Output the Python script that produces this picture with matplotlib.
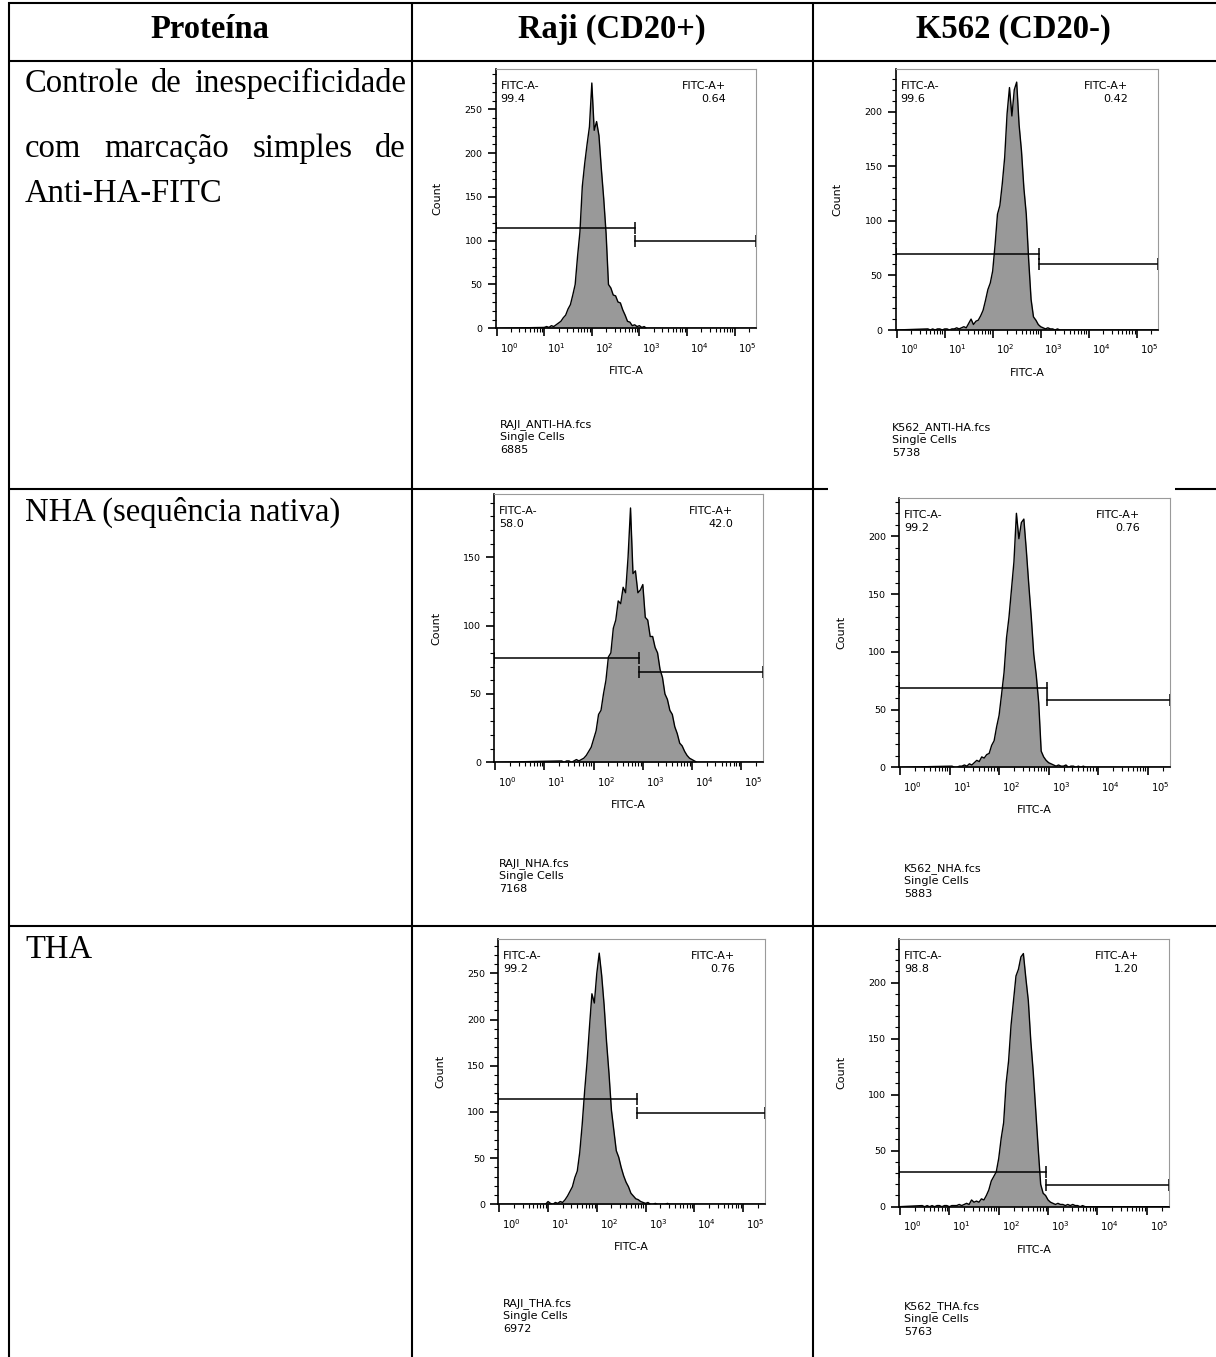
import numpy as np
import matplotlib.pyplot as plt
from matplotlib.transforms import ScaledTranslation
from matplotlib.ticker import MultipleLocator, LogLocator, NullFormatter

W, H = 1216, 1357
BIN = 0.05  # histogram bin width, decades of FITC-A

# table text
headers = ['Proteína', 'Raji (CD20+)', 'K562 (CD20-)']
row1_lines = ['Controle de inespecificidade', 'com marcação simples de', 'Anti-HA-FITC']
row2_label = 'NHA (sequência nativa)'
row3_label = 'THA'

# one entry per histogram: Raji/K562 x anti-HA, NHA, THA
files = ['RAJI_ANTI-HA.fcs', 'K562_ANTI-HA.fcs', 'RAJI_NHA.fcs',
         'K562_NHA.fcs', 'RAJI_THA.fcs', 'K562_THA.fcs']
events = [6885, 5738, 7168, 5883, 6972, 5763]
neg_pct = ['99.4', '99.6', '58.0', '99.2', '99.2', '98.8']
pos_pct = ['0.64', '0.42', '42.0', '0.76', '0.76', '1.20']
gate_split = [794, 933, 851, 933, 676, 912]
gate_neg_y = [115, 70, 76, 69, 114, 31]
gate_pos_y = [100, 60, 66, 58, 99, 19]
y_top = [296, 239, 196, 233, 287, 239]
y_last_tick = [250, 200, 150, 200, 250, 200]

# first bin (log10 FITC-A) and counts per bin
hist_start = [1.00, 0.65, 1.35, 1.05, 0.95, 0.45]
raji_antiha = [1, 2, 1, 3, 2, 4, 6, 8, 12, 15,
               22, 27, 38, 50, 82, 110, 162, 188, 210, 230,
               280, 226, 236, 220, 182, 148, 108, 50, 46, 38,
               37, 30, 29, 21, 15, 8, 7, 3, 4, 2,
               3, 1, 2, 0]
k562_antiha = [1, 0, 1, 0, 1, 1, 0, 1, 1, 0,
               1, 1, 2, 1, 2, 3, 2, 6, 10, 5,
               8, 9, 13, 18, 27, 37, 43, 54, 78, 106,
               114, 134, 158, 198, 222, 196, 220, 227, 188, 164,
               130, 106, 64, 28, 12, 9, 5, 3, 2, 1,
               2, 1, 1, 0, 1, 0]
raji_nha = [1, 0, 1, 1, 0, 1, 2, 1, 2, 3,
            5, 8, 11, 17, 23, 35, 38, 50, 60, 77,
            80, 98, 104, 118, 116, 128, 124, 150, 186, 138,
            140, 124, 126, 130, 106, 104, 92, 92, 84, 80,
            68, 62, 50, 46, 38, 35, 26, 21, 14, 12,
            8, 5, 3, 2, 1, 0]
k562_nha = [1, 0, 0, 1, 1, 2, 1, 3, 2, 4,
            6, 5, 9, 8, 11, 12, 19, 23, 35, 45,
            63, 82, 112, 130, 154, 178, 220, 198, 212, 215,
            188, 158, 130, 98, 80, 56, 14, 9, 6, 4,
            3, 2, 1, 2, 1, 1, 2, 0, 1, 1,
            0, 1, 0, 1, 0]
raji_tha = [0, 3, 1, 0, 2, 1, 3, 2, 5, 9,
            14, 19, 29, 36, 56, 86, 122, 154, 192, 228,
            218, 250, 272, 248, 216, 176, 142, 102, 80, 58,
            51, 40, 31, 24, 19, 12, 9, 6, 5, 3,
            2, 1, 2, 0, 0, 1, 0, 0, 0, 0,
            1, 0]
k562_tha = [1, 0, 1, 0, 1, 0, 1, 1, 0, 1,
            1, 0, 1, 1, 1, 2, 1, 2, 3, 2,
            6, 4, 5, 4, 7, 6, 10, 15, 23, 27,
            31, 43, 61, 75, 110, 130, 162, 184, 206, 212,
            223, 226, 204, 184, 148, 120, 86, 52, 20, 12,
            10, 6, 4, 3, 2, 3, 2, 2, 1, 2,
            1, 2, 1, 1, 0, 1, 0]
hist_counts = [raji_antiha, k562_antiha, raji_nha, k562_nha, raji_tha, k562_tha]

# plot frames in pixels: left, right, top, bottom
boxes = [(495.7, 756, 69, 328.3), (895.7, 1158.3, 69, 330),
         (494.3, 763.3, 494.3, 762.3), (899, 1170, 498.3, 767.3),
         (498.3, 765, 939.3, 1204.3), (899, 1169, 939, 1206.7)]
footer_xy = [(500, 426), (892, 429), (499, 865), (904, 870), (503, 1305), (904, 1308)]

XMIN, XMAX = 10 ** -0.02, 10 ** 5.45

fig = plt.figure(figsize=(W / 100, H / 100), dpi=100)
fig.patch.set_facecolor('white')

# ---- table ----
bg = fig.add_axes([0, 0, 1, 1])
bg.set_xlim(0, W)
bg.set_ylim(H, 0)
bg.axis('off')

lw_tab = 1.5
for x in [8.5, 412, 813]:
    bg.plot([x, x], [1.5, H], color='black', lw=lw_tab, solid_capstyle='butt')
for y in [2.5, 61, 926]:
    bg.plot([8, W], [y, y], color='black', lw=lw_tab, solid_capstyle='butt')
# row 2 top rule is hidden behind the K562_NHA picture
bg.plot([8, 828], [489, 489], color='black', lw=lw_tab, solid_capstyle='butt')
bg.plot([1175, W], [489, 489], color='black', lw=lw_tab, solid_capstyle='butt')

serif = dict(family='Liberation Serif', fontsize=23.5, color='black')
for label, cx in zip(headers, [210, 612, 1013]):
    bg.text(cx, 38, label, ha='center', va='baseline', fontweight='bold', **serif)

renderer = fig.canvas.get_renderer()


def justify(line, x0, x1, y):
    words = line.split()
    items = [bg.text(x0, y, w, va='baseline', **serif) for w in words]
    widths = [t.get_window_extent(renderer).width for t in items]
    gap = (x1 - x0 - sum(widths)) / (len(words) - 1)
    x = x0
    for t, w in zip(items, widths):
        t.set_x(x)
        x += w + gap


justify(row1_lines[0], 25, 406, 92)
justify(row1_lines[1], 25, 406, 157)
bg.text(25, 202, row1_lines[2], va='baseline', **serif)
bg.text(25, 521, row2_label, va='baseline', **serif)
bg.text(25, 958, row3_label, va='baseline', **serif)

# ---- histograms ----
sans = dict(family='DejaVu Sans', color='black')
fs = 8


def ftxt(x, y, s, **kw):
    fig.text(x / W, 1 - y / H, s, fontsize=fs, **sans, **kw)


for i in range(6):
    left, right, top, bottom = boxes[i]
    ax = fig.add_axes([left / W, 1 - bottom / H, (right - left) / W, (bottom - top) / H])
    ax.set_facecolor('white')

    counts = np.array(hist_counts[i], dtype=float)
    dec = hist_start[i] + BIN * np.arange(len(counts))
    xs = np.concatenate([[XMIN], 10 ** dec, [XMAX]])
    ys = np.concatenate([[0], counts, [0]])
    ax.fill_between(xs, ys, 0, color='#999999', lw=0)
    ax.plot(xs, ys, color='black', lw=1.0)

    ax.set_xscale('log')
    ax.set_xlim(XMIN, XMAX)
    ax.set_ylim(0, y_top[i])

    # gates
    g = gate_split[i]
    ax.plot([XMIN, g], [gate_neg_y[i]] * 2, color='black', lw=1.1,
            marker='|', markersize=9, markeredgewidth=1.1)
    ax.plot([g, XMAX], [gate_pos_y[i]] * 2, color='black', lw=1.1,
            marker='|', markersize=9, markeredgewidth=1.1, clip_on=False)

    for s in ['top', 'right']:
        ax.spines[s].set_color('#9a9a9a')
        ax.spines[s].set_linewidth(0.8)
    for s in ['left', 'bottom']:
        ax.spines[s].set_linewidth(1.2)

    ax.yaxis.set_minor_locator(MultipleLocator(10))
    ax.set_yticks(np.arange(0, y_last_tick[i] + 1, 50))
    ax.tick_params(axis='y', which='major', length=6, width=1.2, labelsize=6.8, pad=3.5)
    ax.tick_params(axis='y', which='minor', length=3, width=0.8)

    ax.set_xticks([10 ** k for k in range(6)])
    ax.set_xticklabels([r'$10^{%d}$' % k for k in range(6)])
    ax.xaxis.set_minor_locator(LogLocator(base=10, subs=np.arange(2, 10), numticks=20))
    ax.xaxis.set_minor_formatter(NullFormatter())
    ax.tick_params(axis='x', which='major', length=6, width=1.2, labelsize=7.2, pad=3)
    ax.tick_params(axis='x', which='minor', length=3, width=0.8)
    shift = ScaledTranslation(3 / 100, 0, fig.dpi_scale_trans)
    for lab in ax.get_xticklabels():
        lab.set_horizontalalignment('left')
        lab.set_transform(lab.get_transform() + shift)

    # labels
    ftxt(left + 5, top + 12, 'FITC-A-', va='top')
    ftxt(left + 5, top + 25, neg_pct[i], va='top')
    ftxt(right - 30, top + 12, 'FITC-A+', va='top', ha='right')
    ftxt(right - 30, top + 25, pos_pct[i], va='top', ha='right')
    ftxt(left - 58, (top + bottom) / 2, 'Count', rotation=90, ha='center', va='center')
    ftxt((left + right) / 2, bottom + 43, 'FITC-A', ha='center', va='center')
    fx, fy = footer_xy[i]
    ftxt(fx, fy - 7, '%s\nSingle Cells\n%d' % (files[i], events[i]), va='top', linespacing=1.3)

fig.savefig('out.png', dpi=100)
